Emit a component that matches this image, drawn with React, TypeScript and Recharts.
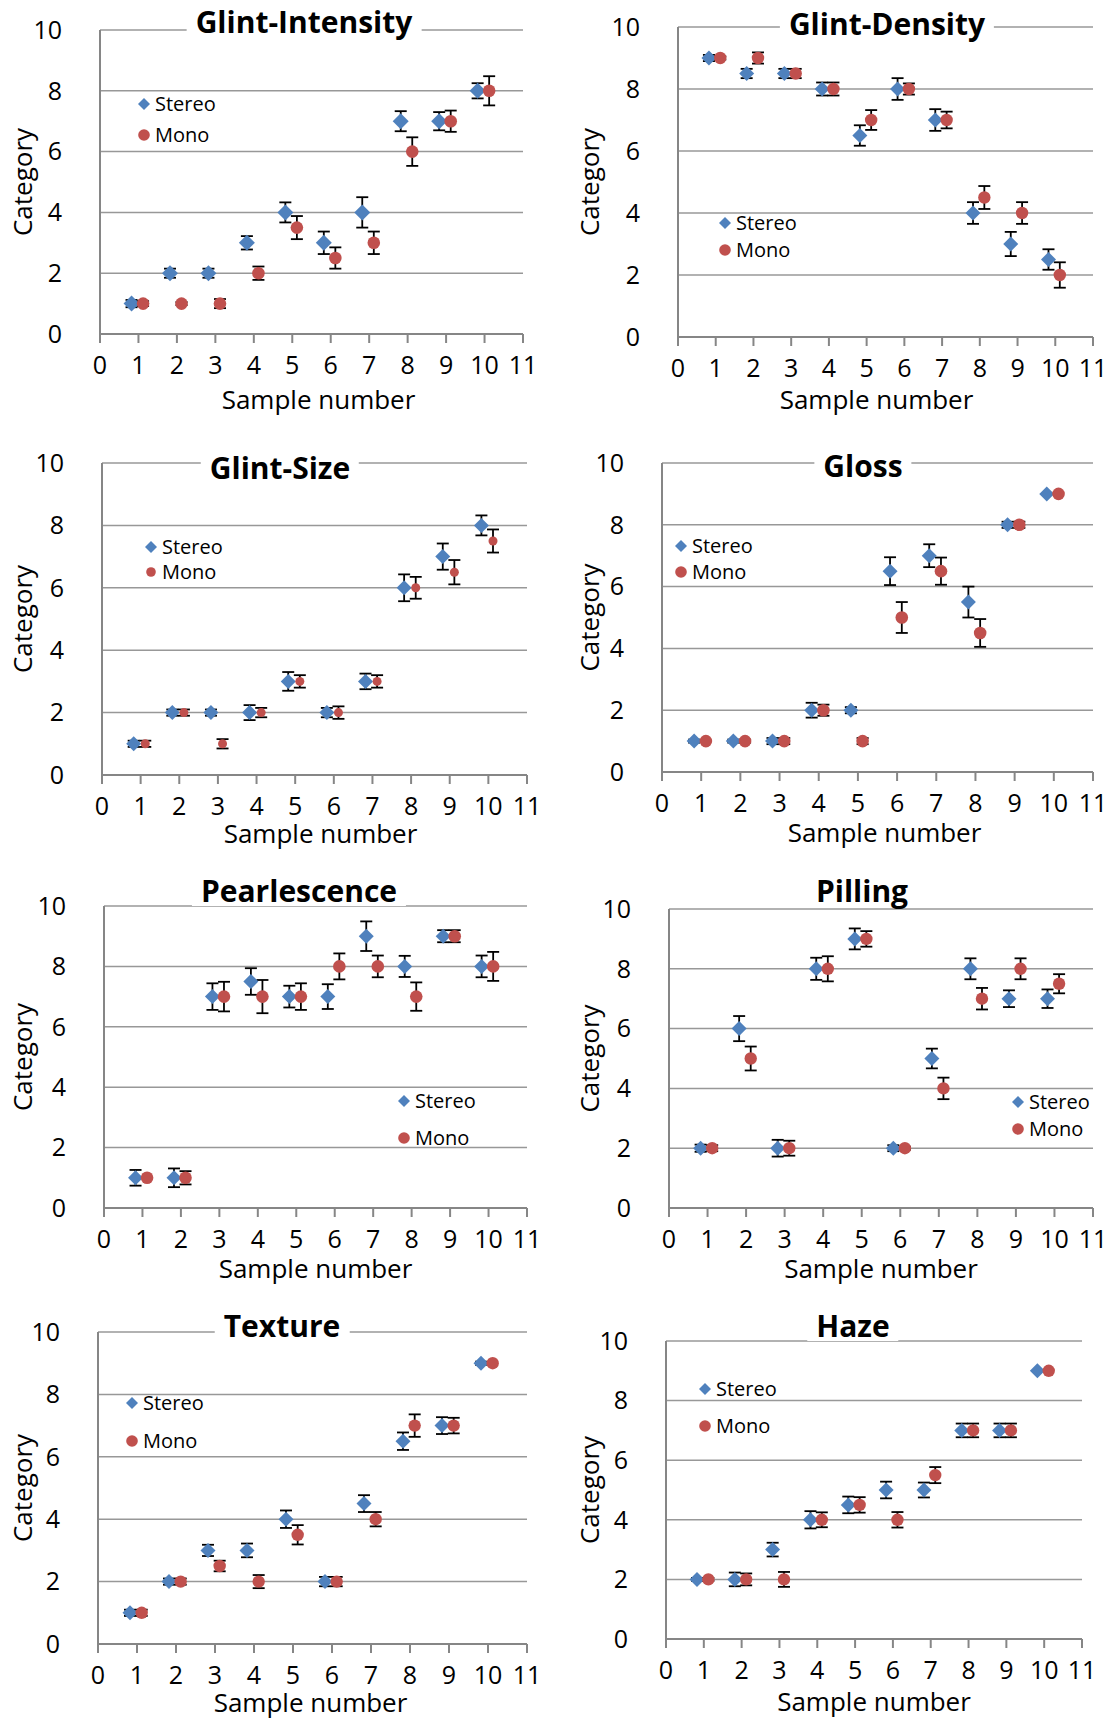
import React from 'react';
import { CartesianGrid, ErrorBar, Scatter, ScatterChart, XAxis, YAxis } from 'recharts';

const BLUE = '#4F81BD';
const RED = '#C0504D';
const GRID = '#989898';
const AXIS = '#868686';
const FONT = '"Open Sans", "Noto Sans", sans-serif';

// sample numbers and where the two series sit beside each one
const samples = [1, 2, 3, 4, 5, 6, 7, 8, 9, 10];
const STEREO_SHIFT = -0.18;
const MONO_SHIFT = 0.12;
const xTicks = [0, 1, 2, 3, 4, 5, 6, 7, 8, 9, 10, 11];
const yTicks = [0, 2, 4, 6, 8, 10];

const titles = ['Glint-Intensity', 'Glint-Density', 'Glint-Size', 'Gloss', 'Pearlescence', 'Pilling', 'Texture', 'Haze'];

const intensityStereo = [1, 2, 2, 3, 4, 3, 4, 7, 7, 8];
const intensityStereoErr = [0.12, 0.15, 0.15, 0.22, 0.33, 0.37, 0.5, 0.33, 0.3, 0.25];
const intensityMono = [1, 1, 1, 2, 3.5, 2.5, 3, 6, 7, 8];
const intensityMonoErr = [0.08, 0.05, 0.15, 0.22, 0.38, 0.35, 0.37, 0.47, 0.35, 0.48];

const densityStereo = [9, 8.5, 8.5, 8, 6.5, 8, 7, 4, 3, 2.5];
const densityStereoErr = [0.1, 0.15, 0.15, 0.21, 0.33, 0.35, 0.35, 0.35, 0.39, 0.33];
const densityMono = [9, 9, 8.5, 8, 7, 8, 7, 4.5, 4, 2];
const densityMonoErr = [0.05, 0.18, 0.15, 0.21, 0.32, 0.18, 0.27, 0.37, 0.35, 0.41];

const sizeStereo = [1, 2, 2, 2, 3, 2, 3, 6, 7, 8];
const sizeStereoErr = [0.1, 0.1, 0.1, 0.24, 0.3, 0.15, 0.25, 0.43, 0.42, 0.32];
const sizeMono = [1, 2, 1, 2, 3, 2, 3, 6, 6.5, 7.5];
const sizeMonoErr = [0.1, 0.1, 0.15, 0.15, 0.2, 0.2, 0.2, 0.35, 0.39, 0.37];

const glossStereo = [1, 1, 1, 2, 2, 6.5, 7, 5.5, 8, 9];
const glossStereoErr = [0.05, 0.05, 0.1, 0.24, 0.1, 0.45, 0.37, 0.5, 0.1, 0];
const glossMono = [1, 1, 1, 2, 1, 5, 6.5, 4.5, 8, 9];
const glossMonoErr = [0, 0.05, 0.1, 0.18, 0.1, 0.5, 0.44, 0.45, 0.1, 0];

const pearlStereo = [1, 1, 7, 7.5, 7, 7, 9, 8, 9, 8];
const pearlStereoErr = [0.26, 0.31, 0.44, 0.44, 0.36, 0.41, 0.49, 0.35, 0.2, 0.36];
const pearlMono = [1, 1, 7, 7, 7, 8, 8, 7, 9, 8];
const pearlMonoErr = [0, 0.22, 0.49, 0.55, 0.44, 0.43, 0.36, 0.47, 0.2, 0.48];

const pillingStereo = [2, 6, 2, 8, 9, 2, 5, 8, 7, 7];
const pillingStereoErr = [0.12, 0.42, 0.28, 0.37, 0.35, 0.1, 0.33, 0.35, 0.28, 0.31];
const pillingMono = [2, 5, 2, 8, 9, 2, 4, 7, 8, 7.5];
const pillingMonoErr = [0.1, 0.4, 0.25, 0.42, 0.26, 0.05, 0.36, 0.36, 0.35, 0.32];

const textureStereo = [1, 2, 3, 3, 4, 2, 4.5, 6.5, 7, 9];
const textureStereoErr = [0.1, 0.1, 0.18, 0.22, 0.28, 0.15, 0.27, 0.28, 0.27, 0.05];
const textureMono = [1, 2, 2.5, 2, 3.5, 2, 4, 7, 7, 9];
const textureMonoErr = [0.1, 0.1, 0.17, 0.21, 0.31, 0.15, 0.23, 0.36, 0.25, 0];

const hazeStereo = [2, 2, 3, 4, 4.5, 5, 5, 7, 7, 9];
const hazeStereoErr = [0.05, 0.23, 0.23, 0.29, 0.28, 0.28, 0.25, 0.23, 0.23, 0];
const hazeMono = [2, 2, 2, 4, 4.5, 4, 5.5, 7, 7, 9];
const hazeMonoErr = [0.05, 0.2, 0.25, 0.25, 0.26, 0.26, 0.27, 0.23, 0.23, 0];

const panels = [
  { title: titles[0], stereo: intensityStereo, stereoErr: intensityStereoErr, mono: intensityMono, monoErr: intensityMonoErr },
  { title: titles[1], stereo: densityStereo, stereoErr: densityStereoErr, mono: densityMono, monoErr: densityMonoErr },
  { title: titles[2], stereo: sizeStereo, stereoErr: sizeStereoErr, mono: sizeMono, monoErr: sizeMonoErr },
  { title: titles[3], stereo: glossStereo, stereoErr: glossStereoErr, mono: glossMono, monoErr: glossMonoErr },
  { title: titles[4], stereo: pearlStereo, stereoErr: pearlStereoErr, mono: pearlMono, monoErr: pearlMonoErr },
  { title: titles[5], stereo: pillingStereo, stereoErr: pillingStereoErr, mono: pillingMono, monoErr: pillingMonoErr },
  { title: titles[6], stereo: textureStereo, stereoErr: textureStereoErr, mono: textureMono, monoErr: textureMonoErr },
  { title: titles[7], stereo: hazeStereo, stereoErr: hazeStereoErr, mono: hazeMono, monoErr: hazeMonoErr },
];

// page placement of each panel: plot box [l, t, r, b], title centre/baseline, legend marker x and row centres
const layouts = [
  { col: 0, row: 0, plot: [100, 30, 523, 334], title: [304, 34], legend: [144, 104, 135], catX: 23, xlab: 75, xdx: 7, dia: 8, rad: 6.3, lrad: 5.8 },
  { col: 557, row: 0, plot: [678, 27, 1093, 337], title: [887, 36], legend: [725, 223, 250], catX: 33, xlab: 72, xdx: -9, dia: 7.5, rad: 6.2, lrad: 5.8 },
  { col: 0, row: 430, plot: [102, 463, 527, 775], title: [280, 480], legend: [151, 547, 572], catX: 23, xlab: 68, xdx: 6, dia: 7.5, rad: 4.5, lrad: 4.8 },
  { col: 557, row: 430, plot: [662, 463, 1093, 772], title: [863, 478], legend: [681, 546, 572], catX: 33, xlab: 70, xdx: 7, dia: 7.5, rad: 6.3, lrad: 5.8 },
  { col: 0, row: 860, plot: [104, 906, 527, 1208], title: [299, 903], legend: [404, 1101, 1138], catX: 23, xlab: 70, xdx: 0, dia: 7.5, rad: 6.3, lrad: 5.8 },
  { col: 557, row: 860, plot: [669, 909, 1093, 1208], title: [862, 903], legend: [1018, 1102, 1129], catX: 33, xlab: 70, xdx: 0, dia: 7.5, rad: 6.2, lrad: 5.8 },
  { col: 0, row: 1290, plot: [98, 1332, 527, 1644], title: [282, 1338], legend: [132, 1403, 1441], catX: 23, xlab: 68, xdx: -2, dia: 7.5, rad: 6.2, lrad: 5.8 },
  { col: 557, row: 1290, plot: [666, 1341, 1082, 1639], title: [853, 1338], legend: [705, 1389, 1426], catX: 33, xlab: 72, xdx: 0, dia: 7.5, rad: 6.2, lrad: 5.8 },
];

const X_AXIS_H = 90;
const RIGHT_PAD = 20;

const diamondPath = (cx: number, cy: number, h: number) =>
  `M${cx},${cy - h}L${cx + h},${cy}L${cx},${cy + h}L${cx - h},${cy}Z`;

const LegendRow = ({ x, y, kind, label, r }: any) => (
  <div
    style={{
      position: 'absolute',
      left: x - 7,
      top: y - 13,
      height: 26,
      display: 'flex',
      alignItems: 'center',
      whiteSpace: 'nowrap',
    }}
  >
    <svg width={14} height={14} style={{ marginRight: 4 }}>
      {kind === 'diamond' ? (
        <path d={diamondPath(7, 7, 6)} fill={BLUE} />
      ) : (
        <circle cx={7} cy={7} r={r} fill={RED} />
      )}
    </svg>
    <span style={{ fontSize: 20, lineHeight: '26px', color: '#000' }}>{label}</span>
  </div>
);

const Panel = ({ panel, lay }: any) => {
  const [l, t, r, b] = lay.plot;
  const width = r - lay.col + RIGHT_PAD;
  const height = b - lay.row + X_AXIS_H;
  const stereoData = samples.map((s, i) => ({ x: s + STEREO_SHIFT, y: panel.stereo[i], err: panel.stereoErr[i] }));
  const monoData = samples.map((s, i) => ({ x: s + MONO_SHIFT, y: panel.mono[i], err: panel.monoErr[i] }));

  return (
    <>
      <div style={{ position: 'absolute', left: lay.col, top: lay.row }}>
        <ScatterChart
          width={width}
          height={height}
          margin={{ top: t - lay.row, right: RIGHT_PAD, bottom: 0, left: 0 }}
        >
          <CartesianGrid vertical={false} stroke={GRID} strokeWidth={1.5} />
          <XAxis
            type="number"
            dataKey="x"
            domain={[0, 11]}
            ticks={xTicks}
            interval={0}
            height={X_AXIS_H}
            axisLine={{ stroke: AXIS, strokeWidth: 2 }}
            tickLine={{ stroke: AXIS, strokeWidth: 2 }}
            tickSize={9}
            tickMargin={13}
            tick={{ fontSize: 25, fill: '#000' }}
            label={{
              value: 'Sample number',
              position: 'insideBottom',
              offset: X_AXIS_H - lay.xlab,
              dx: lay.xdx,
              style: { fontSize: 26, fill: '#000' },
            }}
          />
          <YAxis
            type="number"
            dataKey="y"
            domain={[0, 10]}
            ticks={yTicks}
            interval={0}
            width={l - lay.col}
            axisLine={{ stroke: AXIS, strokeWidth: 2 }}
            tickLine={false}
            tickSize={0}
            tickMargin={38}
            tick={{ fontSize: 25, fill: '#000' }}
            label={{
              value: 'Category',
              angle: -90,
              position: 'insideLeft',
              offset: lay.catX,
              style: { fontSize: 26, fill: '#000', textAnchor: 'middle' },
            }}
          />
          <Scatter
            name="Stereo"
            data={stereoData}
            isAnimationActive={false}
            shape={(p: any) => <path d={diamondPath(p.cx, p.cy, lay.dia)} fill={BLUE} />}
          >
            <ErrorBar dataKey="err" direction="y" width={6} stroke="#000" strokeWidth={1.8} isAnimationActive={false} />
          </Scatter>
          <Scatter
            name="Mono"
            data={monoData}
            isAnimationActive={false}
            shape={(p: any) => <circle cx={p.cx} cy={p.cy} r={lay.rad} fill={RED} />}
          >
            <ErrorBar dataKey="err" direction="y" width={6} stroke="#000" strokeWidth={1.8} isAnimationActive={false} />
          </Scatter>
        </ScatterChart>
      </div>
      <div
        style={{
          position: 'absolute',
          left: lay.title[0],
          top: lay.title[1] - 27,
          transform: 'translateX(-50%)',
          background: '#fff',
          padding: '0 9px',
          fontSize: 30,
          fontWeight: 700,
          lineHeight: '30px',
          whiteSpace: 'nowrap',
          color: '#000',
        }}
      >
        {panel.title}
      </div>
      <LegendRow x={lay.legend[0]} y={lay.legend[1]} kind="diamond" label="Stereo" />
      <LegendRow x={lay.legend[0]} y={lay.legend[2]} kind="circle" label="Mono" r={lay.lrad} />
    </>
  );
};

export default function App() {
  return (
    <div
      style={{
        position: 'absolute',
        left: 0,
        top: 0,
        width: 1114,
        height: 1720,
        overflow: 'hidden',
        background: '#fff',
        fontFamily: FONT,
      }}
    >
      {panels.map((p, i) => (
        <Panel key={p.title} panel={p} lay={layouts[i]} />
      ))}
    </div>
  );
}
